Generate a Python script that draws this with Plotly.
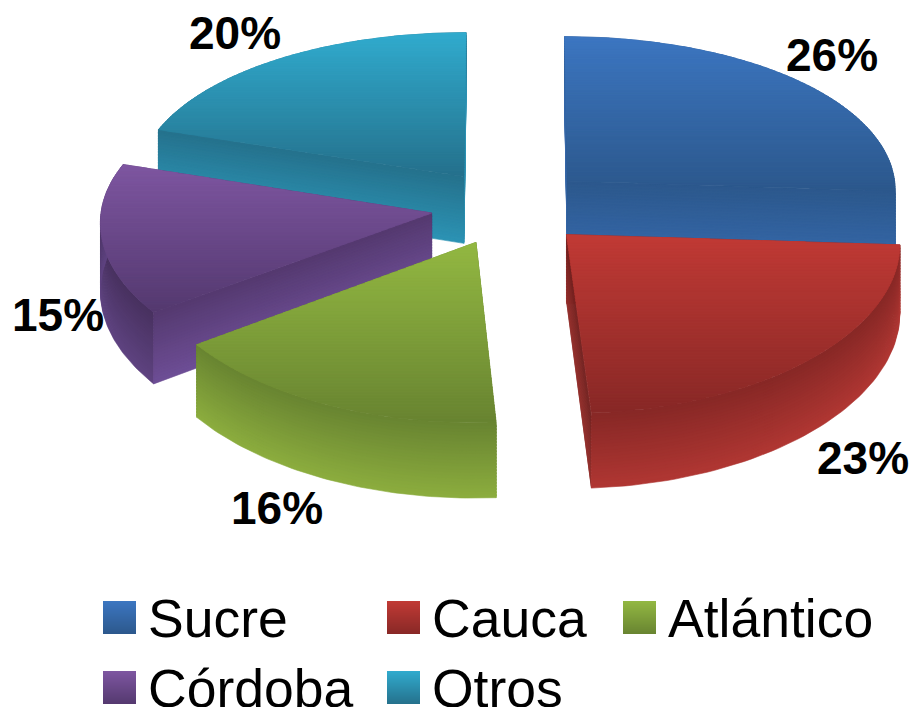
import numpy as np
import plotly.graph_objects as go

categories = ["Sucre", "Cauca", "Atlántico", "Córdoba", "Otros"]
values = [26, 23, 16, 15, 20]
top_hi = [(60, 118, 193), (193, 58, 53), (147, 184, 66), (126, 86, 161), (49, 171, 206)]
top_lo = [(44, 88, 140), (136, 40, 38), (104, 132, 49), (84, 57, 111), (37, 113, 140)]
wall_lo = [(53, 103, 168), (178, 55, 51), (140, 173, 62), (110, 78, 150), (44, 147, 180)]

W, H = 913, 707
CX, CY, RX, RY, KP, KPX, TH, PULL = 510.0, 207.0, 330.0, 160.0, 0.08, 0.05, 68.0, 0.24


def proj(x, v, z):
    return CX + x / (1 + KPX * v), CY - RY * v / (1 + KP * v) + TH * z / (1 + KP * v)


def mix(a, b, t):
    return "rgb(%d,%d,%d)" % tuple(round(a[i] + (b[i] - a[i]) * t) for i in range(3))


def clip_band(pts, y0, y1):
    def clip(poly, inside, cross):
        out = []
        for i in range(len(poly)):
            p, q = poly[i], poly[(i + 1) % len(poly)]
            if inside(p):
                out.append(p)
                if not inside(q):
                    out.append(cross(p, q))
            elif inside(q):
                out.append(cross(p, q))
        return out

    def at(y):
        return lambda p, q: (p[0] + (q[0] - p[0]) * (y - p[1]) / (q[1] - p[1]), y)

    poly = clip(pts, lambda p: p[1] >= y0, at(y0))
    return clip(poly, lambda p: p[1] <= y1, at(y1)) if poly else []


fig = go.Figure()


def add_poly(pts, color):
    fig.add_trace(go.Scatter(
        x=[p[0] for p in pts] + [pts[0][0]], y=[p[1] for p in pts] + [pts[0][1]],
        mode="lines", fill="toself", fillcolor=color,
        line=dict(color=color, width=0.6), hoverinfo="skip", showlegend=False))


def add_wall(a, b, hi, lo, shade=1.0, bands=24):
    """a, b: plane points (x, v) along the rim; wall hangs from z=0 to z=1."""
    dark = [c * shade for c in hi]
    light = [c * shade for c in lo]
    rim = list(zip(a, b))
    for k in range(bands):
        z0, z1 = k / bands, min((k + 1.5) / bands, 1)
        pts = [proj(p[0], p[1], z0) for p in rim] + [proj(p[0], p[1], z1) for p in reversed(rim)]
        add_poly(pts, mix(dark, light, (k + 0.5) / bands))


bounds = np.cumsum([0] + values) / sum(values) * 2 * np.pi
slices = []
for i, name in enumerate(categories):
    t0, t1 = bounds[i], bounds[i + 1]
    mid = (t0 + t1) / 2
    ax, av = RX * PULL * np.sin(mid), PULL * np.cos(mid)
    th = np.linspace(t0, t1, 60)
    rx, rv = ax + RX * np.sin(th), av + np.cos(th)
    slices.append((i, ax, av, rx, rv, t1, mid))

# back slices first
for i, ax, av, rx, rv, t1, mid in sorted(slices, key=lambda s: -s[2]):
    left_face = 1.75 < t1 < 3.5
    outer_shade = 1 - 0.16 * abs(np.sin(mid)) ** 8
    faces = [
        ([ax, rx[0]], [av, rv[0]], 1.0),
        ([ax, rx[-1]], [av, rv[-1]], 0.82 if left_face else 1.0),
        (rx, rv, outer_shade),
    ]
    for a, b, shade in sorted(faces, key=lambda f: -np.mean(f[1])):
        add_wall(a, b, top_lo[i], wall_lo[i], shade)
    # top surface, shaded vertically
    outline = [proj(ax, av, 0)] + [proj(x, v, 0) for x, v in zip(rx, rv)]
    ys = [p[1] for p in outline]
    y_min, y_max = min(ys), max(ys)
    n = 60
    for k in range(n):
        y0 = y_min + (y_max - y_min) * k / n
        y1 = y_min + (y_max - y_min) * (k + 1.5) / n
        band = clip_band(outline, y0, min(y1, y_max))
        if len(band) >= 3:
            add_poly(band, mix(top_hi[i], top_lo[i], (k + 0.5) / n))

# percentage labels
label_xy = [(832, 55), (863, 458), (277, 508), (58, 315), (235, 33)]
annotations = []
total = sum(values)
for v, (x, y) in zip(values, label_xy):
    annotations.append(dict(x=x, y=y, xref="x", yref="y", text=f"{round(100 * v / total)}%", showarrow=False,
                            xanchor="center", yanchor="middle",
                            font=dict(family="Liberation Sans", size=46, color="black", weight="bold")))

# legend
legend_xy = [(103, 601), (387, 601), (623, 601), (103, 671), (387, 671)]
shapes = []
for i, (name, (x, y)) in enumerate(zip(categories, legend_xy)):
    s = 33
    for k in range(s):
        shapes.append(dict(type="rect", xref="x", yref="y", x0=x, x1=x + s, y0=y + k, y1=y + k + 1,
                           fillcolor=mix(top_hi[i], top_lo[i], (k + 0.5) / s), line=dict(width=0), layer="below"))
    annotations.append(dict(x=x + 43, y=y + 17, xref="x", yref="y", text=name, showarrow=False,
                            xanchor="left", yanchor="middle",
                            font=dict(family="Liberation Sans", size=53.5, color="black")))

fig.update_layout(
    width=W, height=H, margin=dict(l=0, r=0, t=0, b=0), paper_bgcolor="white", plot_bgcolor="white",
    showlegend=False, annotations=annotations, shapes=shapes,
    xaxis=dict(range=[0, W], visible=False, fixedrange=True),
    yaxis=dict(range=[H, 0], visible=False, fixedrange=True),
)
fig.write_html("out.html", config=dict(displayModeBar=False),
               post_script="document.body.style.margin='0';document.documentElement.style.overflow='hidden';")
